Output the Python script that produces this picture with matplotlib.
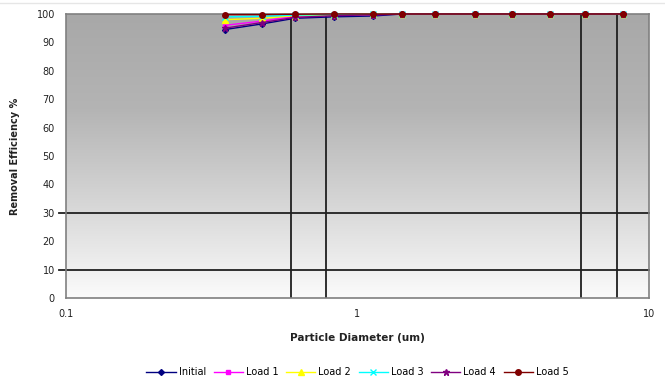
import numpy as np
import matplotlib
matplotlib.use("Agg")
import matplotlib.pyplot as plt
from matplotlib.colors import LinearSegmentedColormap

diam = [0.35, 0.47, 0.61, 0.83, 1.13, 1.42, 1.84, 2.53, 3.39, 4.57, 6.03, 8.14]
series_names = ["Initial", "Load 1", "Load 2", "Load 3", "Load 4", "Load 5"]
initial = [94.5, 96.5, 98.5, 99.0, 99.3, 100, 100, 100, 100, 100, 100, 100]
load1 = [96.0, 97.5, 99.2, 99.6, 99.8, 100, 100, 100, 100, 100, 100, 100]
load2 = [98.0, 98.5, 99.4, 99.6, 99.9, 100, 100, 100, 100, 100, 100, 100]
load3 = [99.0, 99.2, 99.6, 99.8, 99.9, 100, 100, 100, 100, 100, 100, 100]
load4 = [95.0, 97.0, 98.8, 99.4, 99.7, 100, 100, 100, 100, 100, 100, 100]
load5 = [99.8, 99.8, 99.9, 100, 100, 100, 100, 100, 100, 100, 100, 100]
vlines_x = [0.59, 0.78, 5.85, 7.76]
hlines_y = [30, 10]

colors = ["#000080", "#ff00ff", "#ffff00", "#00ffff", "#800080", "#800000"]
markers = ["D", "s", "^", "x", "*", "o"]
sizes = [3, 3.5, 4, 4, 5, 4]
data = [initial, load1, load2, load3, load4, load5]

fig = plt.figure(figsize=(6.65, 3.82), dpi=100)
ax = fig.add_axes([66/665, 1-298/382, (649-66)/665, (298-14)/382])
ax.set_xscale("log")
ax.set_xlim(0.1, 10)
ax.set_ylim(0, 100)

cmap = LinearSegmentedColormap.from_list("bg", ["#fbfbfb", "#d6d6d6", "#b4b4b4", "#a8a8a8"])
grad = np.linspace(0, 1, 256).reshape(-1, 1)
ax.imshow(grad, cmap=cmap, aspect="auto", extent=[0, 1, 0, 1], origin="lower",
          transform=ax.transAxes, zorder=0)

for xv in vlines_x:
    ax.axvline(xv, color="#202020", lw=1.3, zorder=1)
for yv in hlines_y:
    ax.axhline(yv, xmin=-0.012, xmax=1, color="#202020", lw=1.3, zorder=1, clip_on=False)

for name, vals, c, m, s in zip(series_names, data, colors, markers, sizes):
    ax.plot(diam, vals, color=c, marker=m, markersize=s, lw=1.0, label=name,
            clip_on=False, zorder=3)

for sp in ax.spines.values():
    sp.set_color("#808080")
    sp.set_linewidth(1.2)
ax.tick_params(axis="both", length=0, labelsize=7, colors="#222222", pad=8)
ax.tick_params(axis="x", which="minor", length=0)
ax.set_yticks(range(0, 101, 10))
ax.set_xticks([0.1, 1, 10])
ax.set_xticklabels(["0.1", "1", "10"])
ax.set_xlabel("Particle Diameter (um)", fontsize=7.5, fontweight="bold", labelpad=10, color="#222222")
ax.set_ylabel("Removal Efficiency %", fontsize=7, fontweight="bold", labelpad=12, color="#222222")

ax.legend(loc="center", bbox_to_anchor=(0.5, -0.262), ncol=6, frameon=False,
          fontsize=7, handlelength=3, columnspacing=0.8, handletextpad=0.3)

fig.add_artist(plt.Line2D([0, 1], [1-3/382, 1-3/382], color="#e6e6e6", lw=1))
fig.savefig("out.png", dpi=100)
